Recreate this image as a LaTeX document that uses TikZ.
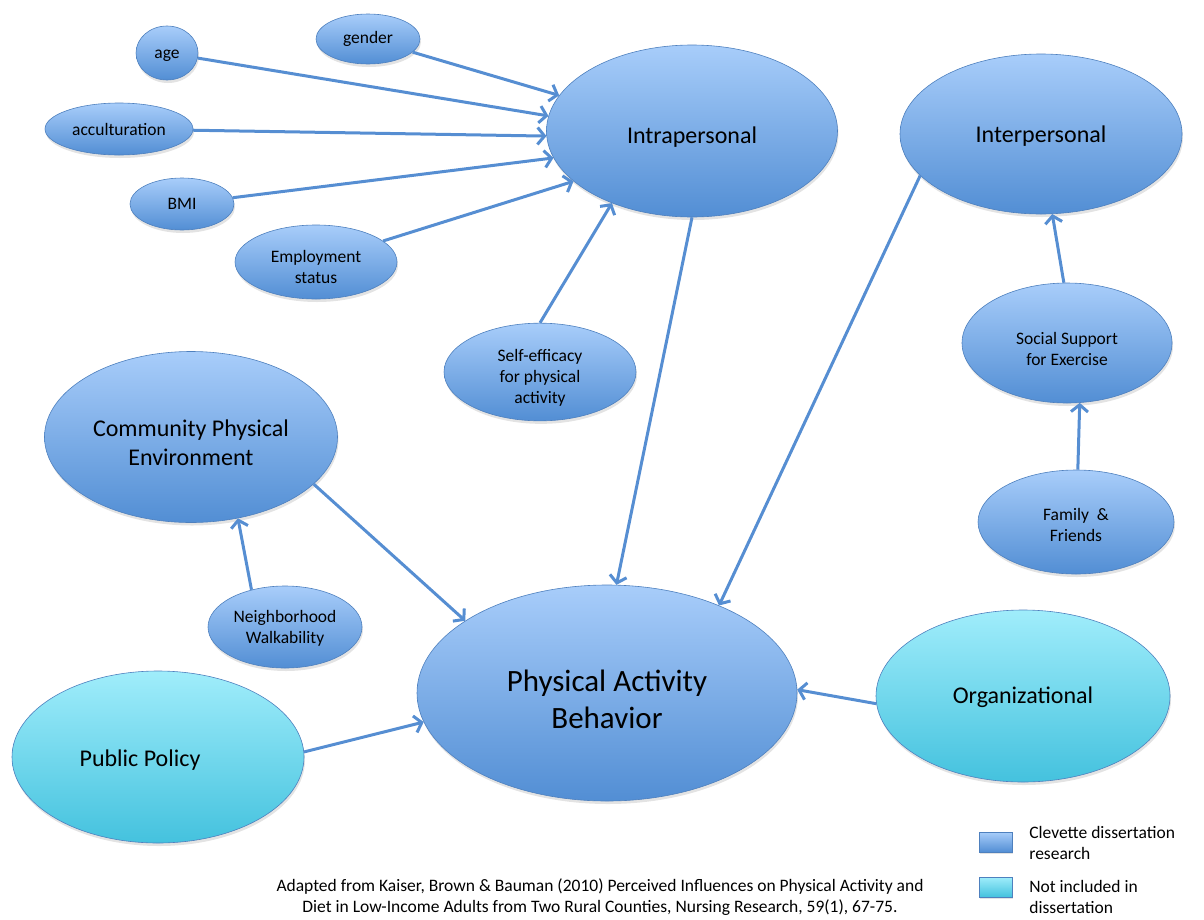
\documentclass[tikz,border=0pt]{standalone}
\usepackage{fontspec}
\setmainfont{Carlito}
\usetikzlibrary{shapes.geometric,arrows.meta,shadows}
\tikzset{every picture/.style={line width=0.75pt}}

\definecolor{ovalline}{RGB}{78,128,190}
\definecolor{bluetop}{RGB}{168,205,250}
\definecolor{bluebot}{RGB}{82,142,212}
\definecolor{cyantop}{RGB}{160,237,251}
\definecolor{cyanbot}{RGB}{68,194,222}
\definecolor{arrowblue}{RGB}{86,142,210}

% taller first line, so the label sits a little below the middle of its oval
\newcommand{\textsink}[1]{\rule{0pt}{\dimexpr0.7em+#1*2\relax}}

\tikzset{
  oval/.style 2 args={ellipse, draw=ovalline, line width=0.6pt,
    top color=bluetop, bottom color=bluebot,
    minimum width=#1, minimum height=#2, inner sep=0pt, align=center,
    drop shadow={shadow xshift=1pt, shadow yshift=-3pt, opacity=0.22}},
  excluded/.style={top color=cyantop, bottom color=cyanbot},
  small/.style={font=\fontsize{17.5}{21}\selectfont},
  big/.style={font=\fontsize{24}{28.5}\selectfont},
  huge/.style={font=\fontsize{31}{37}\selectfont},
  keybox/.style={rectangle, draw=ovalline, line width=0.6pt,
    top color=bluetop, bottom color=bluebot,
    minimum width=33pt, minimum height=20pt, inner sep=0pt,
    drop shadow={shadow xshift=1pt, shadow yshift=-2pt, opacity=0.22}},
  influence/.style={draw=arrowblue, line width=3pt,
    -{Straight Barb[length=7pt,width=17pt]}}
}

\begin{document}
\begin{tikzpicture}[x=1pt,y=1pt,yscale=-1,xscale=1]
\useasboundingbox (0,0) rectangle (1204,919);

%Shape: Ellipse [individual factors]
\node[oval={62}{54}, small] (age) at (167,53) {\textsink{1pt}age};
\node[oval={104}{50}, small] (gender) at (368,39) {gender};
\node[oval={148}{52}, small] (accult) at (119,129) {acculturation};
\node[oval={104}{52}, small] (bmi) at (182,204) {BMI};
\node[oval={162}{74}, small] (employ) at (316,262) {\textsink{5pt}Employment\\status};
\node[oval={192}{96}, small] (selfeff) at (540,372) {\textsink{6pt}Self-efficacy\\for physical\\activity};

%Shape: Ellipse [levels]
\node[oval={291}{172}, big] (intra) at (692,131) {\textsink{6pt}Intrapersonal};
\node[oval={282}{160}, big] (inter) at (1041,134) {\textsink{2pt}Interpersonal};
\node[oval={210}{120}, small] (social) at (1067,343) {\textsink{5.5pt}Social Support\\for Exercise};
\node[oval={196}{104}, small] (family) at (1076,522) {\textsink{3pt}Family~~\&\\Friends};
\node[oval={293}{171}, big] (community) at (191,437) {\textsink{5.5pt}Community Physical\\Environment};
\node[oval={154}{82}, small] (walk) at (285,627) {\textsink{1pt}Neighborhood\\Walkability};
\node[oval={380}{216}, huge] (pab) at (607,693) {\textsink{6pt}Physical Activity\\Behavior};
\node[oval={292}{172}, big, excluded] (policy) at (158,757) {\textsink{3pt}Public Policy\hspace*{36pt}};
\node[oval={294}{172}, big, excluded] (org) at (1023,696) {\textsink{1pt}Organizational};

%Straight Lines
\draw[influence] (gender) -- (intra.165);
\draw[influence] (age) -- (intra.174.7);
\draw[influence] (accult) -- (intra.182.4);
\draw[influence] (bmi) -- (intra.191.7);
\draw[influence] (employ) -- (intra.203.6);
\draw[influence] (selfeff.north) -- (intra.222);
\draw[influence] (intra.270) -- (pab.85);
\draw[influence] (inter.199) -- (pab.38);
\draw[influence] (social.93) -- (inter.278);
\draw[influence] (family.88) -- (social.282);
\draw[influence] (community.339) -- (pab.153);
\draw[influence] (walk.132) -- (community.300);
\draw[influence] (policy.2) -- (pab.189);
\draw[influence] (org.183) -- (pab.1);

%Legend
\node[keybox] (keyblue) at (995.5,842) {};
\node[keybox, excluded] (keycyan) at (995.5,887) {};
\node[small, anchor=west, align=left, inner sep=0pt] (keybluetext) at (1029,843) {Clevette dissertation\\research};
\node[small, anchor=west, align=left, inner sep=0pt] (keycyantext) at (1029,897) {Not included in\\dissertation};

% Text Node
\node[small, align=center, inner sep=0pt] (source) at (600,897) {Adapted from Kaiser, Brown \& Bauman (2010) Perceived Influences on Physical Activity and\\Diet in Low-Income Adults from Two Rural Counties, Nursing Research, 59(1), 67-75.};

\end{tikzpicture}
\end{document}
